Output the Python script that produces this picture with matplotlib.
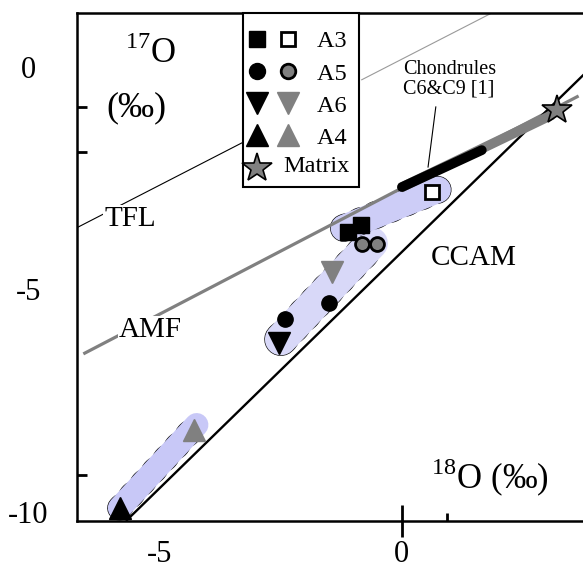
import matplotlib.pyplot as plt
from matplotlib.lines import Line2D
from matplotlib.legend_handler import HandlerTuple

plt.rcParams['font.family'] = ['Liberation Serif', 'DejaVu Serif']
plt.rcParams['mathtext.fontset'] = 'custom'
plt.rcParams['mathtext.rm'] = 'Liberation Serif'
plt.rcParams['lines.scale_dashes'] = False

GRAY = '#808080'

# =========================================
# DATA  (d18O, d17O in permil)
# =========================================
a3_fill_x = [-1.12, -0.85]
a3_fill_y = [-3.70, -3.55]
a3_open_x = [0.62]
a3_open_y = [-2.81]
a5_fill_x = [-2.42, -1.51]
a5_fill_y = [-5.66, -5.30]
a5_gray_x = [-0.83, -0.52]
a5_gray_y = [-3.98, -3.98]
a6_fill_x = [-2.54]
a6_fill_y = [-6.20]
a6_gray_x = [-1.45]
a6_gray_y = [-4.61]
a4_fill_x = [-5.83]
a4_fill_y = [-9.91]
a4_gray_x = [-4.30]
a4_gray_y = [-8.16]
matrix_x = [3.20]
matrix_y = [-0.97]

# reference lines
ccam_x = [-5.68, 3.74]
ccam_y = [-10.18, -0.19]
tfl_lo_x = [-6.69, -3.31]
tfl_lo_y = [-3.60, -1.71]
tfl_hi_x = [-0.83, 1.82]
tfl_hi_y = [-0.29, 1.19]
amf_x = [-6.55, 3.62]
amf_y = [-6.43, -0.67]

# chondrules C6&C9 [1]
chond_x = [0.00, 1.65]
chond_y = [-2.70, -1.87]
chond_gray_x = [0.06, 3.02]
chond_gray_y = [-2.67, -1.12]
leader_x = [0.54, 0.70]
leader_y = [-2.25, -0.90]

# shaded bands linking the inclusions
band_a4_x = [-5.83, -4.24]
band_a4_y = [-9.91, -8.04]
band_a56_x = [-2.50, -0.62]
band_a56_y = [-6.12, -3.96]
band_a3_x = [-1.20, 0.74]
band_a3_y = [-3.62, -2.76]

# =========================================
# FIGURE
# =========================================
fig = plt.figure(figsize=(5.83, 5.68), dpi=100)
ax = fig.add_axes([77 / 583, 47 / 568, 1 - 77 / 583, 508 / 568])
ax.set_xlim(-6.71, 3.74)
ax.set_ylim(-10.20, 1.21)

# bands (faint dashed outline underneath, lavender fill on top)
for bx, by, w, c in [(band_a4_x, band_a4_y, 17, '#c8c8f7'),
                     (band_a56_x, band_a56_y, 23, '#d8d8f8'),
                     (band_a3_x, band_a3_y, 19, '#cdcdf7')]:
    ax.plot(bx, by, color='black', lw=w + 0.9, ls=(0, (2, 10)),
            dash_capstyle='round', zorder=1)
    ax.plot(bx, by, color=c, lw=w, solid_capstyle='round', zorder=1)

# lines
ax.plot(ccam_x, ccam_y, color='black', lw=1.7, zorder=3)
ax.plot(tfl_lo_x, tfl_lo_y, color='black', lw=0.8, zorder=2)
ax.plot(tfl_hi_x, tfl_hi_y, color='#9a9a9a', lw=0.8, zorder=2)
ax.plot(amf_x, amf_y, color=GRAY, lw=2.3, zorder=2)
ax.plot(chond_gray_x, chond_gray_y, color=GRAY, lw=7, zorder=3)
ax.plot(chond_x, chond_y, color='black', lw=7, solid_capstyle='round', zorder=4)
ax.plot(leader_x, leader_y, color='black', lw=0.8, zorder=4)

# points
ax.plot(a3_fill_x, a3_fill_y, ls='', marker='s', ms=11, mfc='black', mec='black', zorder=5)
ax.plot(a3_open_x, a3_open_y, ls='', marker='s', ms=10, mfc='white', mec='black', mew=2, zorder=5)
ax.plot(a5_fill_x, a5_fill_y, ls='', marker='o', ms=11, mfc='black', mec='black', zorder=5)
ax.plot(a5_gray_x, a5_gray_y, ls='', marker='o', ms=10, mfc=GRAY, mec='black', mew=2, zorder=5)
ax.plot(a6_fill_x, a6_fill_y, ls='', marker='v', ms=16, mfc='black', mec='black', zorder=5)
ax.plot(a6_gray_x, a6_gray_y, ls='', marker='v', ms=16, mfc=GRAY, mec=GRAY, zorder=5)
ax.plot(a4_fill_x, a4_fill_y, ls='', marker='^', ms=16, mfc='black', mec='black', zorder=5)
ax.plot(a4_gray_x, a4_gray_y, ls='', marker='^', ms=16, mfc=GRAY, mec=GRAY, zorder=5)
ax.plot(matrix_x, matrix_y, ls='', marker='*', ms=22, mfc=GRAY, mec='black', mew=1.2, zorder=6)

# text
txt = dict(ha='center', va='center', zorder=7)
ax.text(-5.19, 0.29, r'$^{17}$O', fontsize=25, **txt)
ax.text(-5.48, -0.92, '(‰)', fontsize=26, **txt)
ax.text(1.82, -9.24, r'$^{18}$O (‰)', fontsize=25, **txt)
ax.text(-5.60, -3.42, 'TFL', fontsize=21,
        bbox=dict(fc='white', ec='none', pad=1), **txt)
ax.text(-5.19, -5.91, 'AMF', fontsize=21,
        bbox=dict(fc='white', ec='none', pad=1), **txt)
ax.text(1.49, -4.29, 'CCAM', fontsize=21, **txt)
ax.text(0.02, 0.16, 'Chondrules\nC6&C9 [1]', fontsize=14.5, ha='left', va='top',
        linespacing=1.05, zorder=7)

# axes styling
ax.spines['right'].set_visible(False)
for s in ['left', 'bottom', 'top']:
    ax.spines[s].set_linewidth(1.8)

ax.set_xticks([-5, 0])
ax.set_xticklabels(['-5', '0'])
ax.set_xticks([0.93], minor=True)
ax.tick_params(axis='x', which='major', direction='inout', length=23, width=2,
               pad=2, labelsize=22)
ax.tick_params(axis='x', which='minor', direction='in', length=6, width=2)
ax.xaxis.get_major_ticks()[0].tick1line.set_visible(False)

ax.set_yticks([0, -5, -10])
ax.set_yticklabels(['0', '-5', '-10'])
ax.set_yticks([-0.90, -1.91, -9.17], minor=True)
ax.tick_params(axis='y', which='major', length=0, pad=35, labelsize=22)
ax.tick_params(axis='y', which='minor', direction='in', length=7, width=2)
for lab in ax.get_yticklabels():
    lab.set_horizontalalignment('center')

# legend
def mk(m, fc, ec='black', ms=11, mew=1):
    return Line2D([], [], ls='', marker=m, markerfacecolor=fc,
                  markeredgecolor=ec, markersize=ms, markeredgewidth=mew)

handles = [
    (mk('s', 'black', ms=11.5), mk('s', 'white', mew=2, ms=10.5)),
    (mk('o', 'black', ms=11.5), mk('o', GRAY, mew=2, ms=10.5)),
    (mk('v', 'black', ms=16), mk('v', GRAY, ec=GRAY, ms=16)),
    (mk('^', 'black', ms=16), mk('^', GRAY, ec=GRAY, ms=16)),
    (mk('*', GRAY, ms=22, mew=1.2), Line2D([], [], ls='')),
]
labels = ['A3 ', 'A5 ', 'A6 ', 'A4 ', ' ']
leg = ax.legend(handles, labels, handler_map={tuple: HandlerTuple(ndivide=None, pad=0.62)},
                loc='upper left', bbox_to_anchor=(243 / 583, 1 - 13 / 568),
                bbox_transform=fig.transFigure, borderaxespad=0, fontsize=17.5,
                handlelength=1.93, handletextpad=0.86, borderpad=0.25,
                labelspacing=0.42, title=' ', title_fontsize=1,
                fancybox=False, framealpha=1, edgecolor='black')
leg.get_frame().set_linewidth(1.5)
leg.set_zorder(10)
# the Matrix label sits right after the star, not in the label column
fig.text(283 / 583, 1 - 167 / 568, 'Matrix', fontsize=17.5, ha='left', va='center', zorder=11)

plt.savefig('out.png', dpi=100)
